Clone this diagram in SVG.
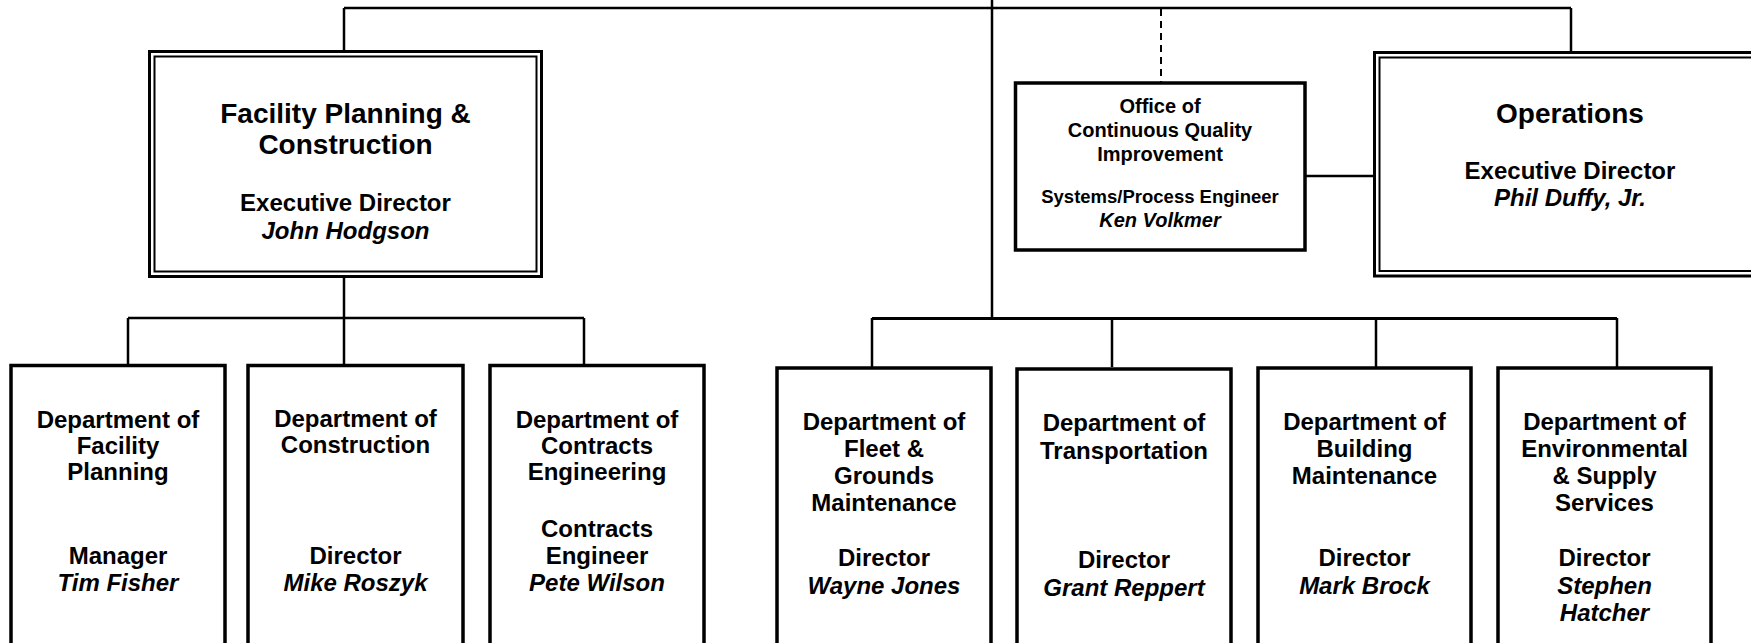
<svg xmlns="http://www.w3.org/2000/svg" width="1751" height="643" viewBox="0 0 1751 643">
<style>
.bg{fill:#fff}
.ln{stroke:#000;stroke-width:2.5;fill:none}
.dash{stroke:#000;stroke-width:2;fill:none;stroke-dasharray:7 5}
.box{stroke:#000;stroke-width:3.5;fill:#fff}
.dbo{stroke:#000;stroke-width:3;fill:#fff}
.dbi{stroke:#000;stroke-width:2;fill:none}
text{font-family:"Liberation Sans",Arial,Helvetica,sans-serif;font-weight:bold;fill:#000;text-anchor:middle}
.t28{font-size:28px}
.t24{font-size:24px}
.t23{font-size:24px}
.t17{font-size:20px}
.t15{font-size:18.5px}
.i{font-style:italic}
</style>
<rect class="bg" x="0" y="0" width="1751" height="643"/>
<g id="connectors">
<path class="ln" d="M344 8 H1571"/>
<path class="ln" d="M992 0 V318"/>
<path class="ln" d="M344 8 V50"/>
<path class="ln" d="M1571 8 V51"/>
<path class="dash" d="M1161 9 V82"/>
<path class="ln" d="M1305 176 H1373"/>
<path class="ln" d="M344 277 V318"/>
<path class="ln" d="M128 318 H584"/>
<path class="ln" d="M128 318 V364 M344 318 V364 M584 318 V364"/>
<path class="ln" style="stroke-width:3" d="M872 318.5 H1617"/>
<path class="ln" d="M872 318 V367 M1112 318 V367 M1376 318 V367 M1617 318 V367"/>
</g>
<g id="fpc">
<rect class="dbo" x="149.5" y="51.5" width="392" height="225"/>
<rect class="dbi" x="154.5" y="56.5" width="382" height="215"/>
<text class="t28" x="345.5" y="123">Facility Planning &amp;</text>
<text class="t28" x="345.5" y="154">Construction</text>
<text class="t24" x="345.5" y="211">Executive Director</text>
<text class="t24 i" x="345.5" y="239">John Hodgson</text>
</g>
<g id="office">
<rect class="box" x="1015.5" y="83" width="289.5" height="167"/>
<text class="t17" x="1160" y="113">Office of</text>
<text class="t17" x="1160" y="137">Continuous Quality</text>
<text class="t17" x="1160" y="161">Improvement</text>
<text class="t15" x="1160" y="203">Systems/Process Engineer</text>
<text class="t17 i" x="1160" y="227">Ken Volkmer</text>
</g>
<g id="operations">
<rect class="dbo" x="1374.5" y="52.5" width="400" height="223.5"/>
<rect class="dbi" x="1379.5" y="57.5" width="390" height="213.5"/>
<text class="t28" x="1570" y="123">Operations</text>
<text class="t24" x="1570" y="179">Executive Director</text>
<text class="t24 i" x="1570" y="206">Phil Duffy, Jr.</text>
</g>
<g id="dept-facility-planning">
<path class="box" d="M11 660 V365.5 H225 V660"/>
<text class="t23" x="118" y="427.5">Department of</text>
<text class="t23" x="118" y="453.5">Facility</text>
<text class="t23" x="118" y="479.5">Planning</text>
<text class="t23" x="118" y="563.5">Manager</text>
<text class="t23 i" x="118" y="590.5">Tim Fisher</text>
</g>
<g id="dept-construction">
<path class="box" d="M248 660 V365.5 H463 V660"/>
<text class="t23" x="355.5" y="426.5">Department of</text>
<text class="t23" x="355.5" y="452.5">Construction</text>
<text class="t23" x="355.5" y="563.5">Director</text>
<text class="t23 i" x="355.5" y="590.5">Mike Roszyk</text>
</g>
<g id="dept-contracts">
<path class="box" d="M490 660 V365.5 H704 V660"/>
<text class="t23" x="597" y="427.5">Department of</text>
<text class="t23" x="597" y="453.5">Contracts</text>
<text class="t23" x="597" y="479.5">Engineering</text>
<text class="t23" x="597" y="536.5">Contracts</text>
<text class="t23" x="597" y="563.5">Engineer</text>
<text class="t23 i" x="597" y="590.5">Pete Wilson</text>
</g>
<g id="dept-fleet">
<path class="box" d="M777 660 V368 H991 V660"/>
<text class="t23" x="884" y="429.5">Department of</text>
<text class="t23" x="884" y="456.5">Fleet &amp;</text>
<text class="t23" x="884" y="483.5">Grounds</text>
<text class="t23" x="884" y="510.5">Maintenance</text>
<text class="t23" x="884" y="565.5">Director</text>
<text class="t23 i" x="884" y="593.5">Wayne Jones</text>
</g>
<g id="dept-transportation">
<path class="box" d="M1017 660 V369 H1231 V660"/>
<text class="t23" x="1124" y="430.5">Department of</text>
<text class="t23" x="1124" y="458.5">Transportation</text>
<text class="t23" x="1124" y="567.5">Director</text>
<text class="t23 i" x="1124" y="595.5">Grant Reppert</text>
</g>
<g id="dept-building">
<path class="box" d="M1258 660 V368 H1471 V660"/>
<text class="t23" x="1364.5" y="429.5">Department of</text>
<text class="t23" x="1364.5" y="456.5">Building</text>
<text class="t23" x="1364.5" y="483.5">Maintenance</text>
<text class="t23" x="1364.5" y="565.5">Director</text>
<text class="t23 i" x="1364.5" y="593.5">Mark Brock</text>
</g>
<g id="dept-environmental">
<path class="box" d="M1498 660 V368 H1711 V660"/>
<text class="t23" x="1604.5" y="429.5">Department of</text>
<text class="t23" x="1604.5" y="456.5">Environmental</text>
<text class="t23" x="1604.5" y="483.5">&amp; Supply</text>
<text class="t23" x="1604.5" y="510.5">Services</text>
<text class="t23" x="1604.5" y="565.5">Director</text>
<text class="t23 i" x="1604.5" y="593.5">Stephen</text>
<text class="t23 i" x="1604.5" y="620.5">Hatcher</text>
</g>
</svg>
